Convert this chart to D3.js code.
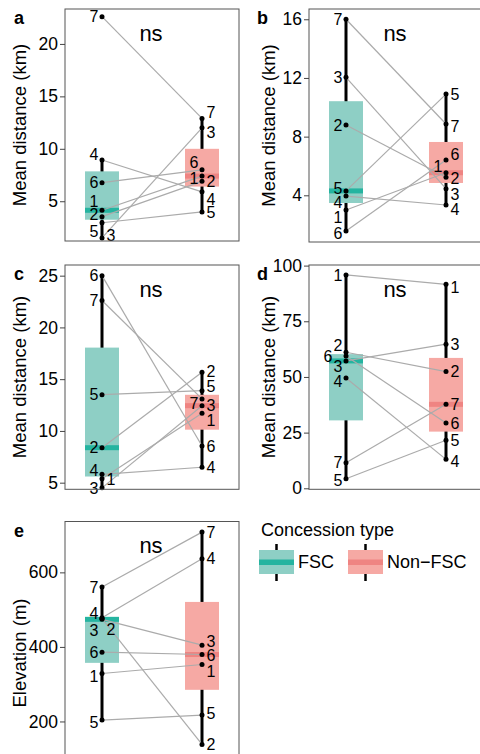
<!DOCTYPE html>
<html><head><meta charset="utf-8">
<script src="https://cdn.jsdelivr.net/npm/d3@7"></script>
<style>body{margin:0;background:#fff;} text{font-family:"Liberation Sans",Arial,sans-serif;}</style>
</head><body>
<script>
// ---------- data ----------
const groups = ["FSC", "Non-FSC"];
const ids = [1, 2, 3, 4, 5, 6, 7];
const panelKeys = ["a", "b", "c", "d", "e"];
const yTitles = ["Mean distance (km)", "Mean distance (km)", "Mean distance (km)", "Mean distance (km)", "Elevation (m)"];
const sigLabels = ["ns", "ns", "ns", "ns", "ns"];

const aFSC    = [4.14, 3.53, 1.50, 8.93, 2.95, 6.77, 22.6];
const aNonFSC = [7.4, 6.9, 12.0, 5.9, 3.98, 8.0, 12.9];
const bFSC    = [3.0, 8.79, 12.04, 3.95, 4.3, 1.57, 16.0];
const bNonFSC = [5.54, 5.23, 4.45, 3.34, 10.9, 6.41, 8.86];
const cFSC    = [5.38, 8.38, 4.5, 5.81, 13.5, 25.0, 22.6];
const cNonFSC = [11.7, 15.66, 12.44, 6.49, 13.89, 8.54, 13.09];
const dFSC    = [95.8, 61.1, 57.2, 49.5, 4.3, 59.4, 11.5];
const dNonFSC = [91.6, 52.4, 64.7, 13.0, 21.6, 29.3, 37.7];
const eFSC    = [328.7, 476, 474, 478, 203.6, 385.8, 560.7];
const eNonFSC = [352.8, 138.5, 404.6, 636.8, 217, 379.6, 708];

const ticksA = [5, 10, 15, 20];
const ticksB = [4, 8, 12, 16];
const ticksC = [5, 10, 15, 20, 25];
const ticksD = [0, 25, 50, 75, 100];
const ticksE = [200, 400, 600];

const legendTitle = "Concession type";
const legendLabels = ["FSC", "Non\u2212FSC"];

// ---------- layout / style ----------
const fills = ["#8ecfc5", "#f6a9a4"];
const medCols = ["#25b4a0", "#ef8482"];
const W = 174;
const layout = [
  {x: 65,  y: 9,     h: 232,   dom: [1.21, 23.33], ticks: ticksA, vals: [aFSC, aNonFSC], tx: 26,  ty: 125},
  {x: 309, y: 9,     h: 233,   dom: [0.817, 16.70], ticks: ticksB, vals: [bFSC, bNonFSC], tx: 275, ty: 125.5},
  {x: 65,  y: 265,   h: 224.3, dom: [4.36, 26.03], ticks: ticksC, vals: [cFSC, cNonFSC], tx: 26,  ty: 377},
  {x: 309, y: 265,   h: 224.3, dom: [-0.45, 100.27], ticks: ticksD, vals: [dFSC, dNonFSC], tx: 275, ty: 377},
  {x: 65,  y: 521.5, h: 233.5, dom: [110, 736.5], ticks: ticksE, vals: [eFSC, eNonFSC], tx: 26,  ty: 653, extra: 40}
];
// label placement tweaks (side L/R, dy/dx in px)
const labelAdj = {
  a: [{4:{dy:-6}, 1:{dy:-9}, 2:{dy:-2}, 5:{dy:8}, 3:{s:"R", dy:-3}},
      {7:{dy:-6}, 3:{dy:4}, 6:{s:"L", dy:-8}, 1:{s:"L", dy:2}, 4:{dy:7}}],
  b: [{5:{dy:-3}, 4:{dy:6}, 1:{dy:7}, 6:{dy:2}},
      {7:{dy:2}, 6:{dy:-6}, 1:{s:"L", dy:-6}, 2:{dy:1}, 3:{dy:6}, 4:{dy:4}}],
  c: [{4:{dy:-4}, 1:{s:"R"}},
      {2:{dy:-1}, 5:{dy:-4}, 7:{s:"L", dy:4}, 1:{dy:7}}],
  d: [{2:{dy:-7}, 6:{dx:-10}, 3:{dy:5}, 4:{dy:3}, 5:{dy:2}},
      {1:{dy:3}, 4:{dy:2}}],
  e: [{4:{dy:-5}, 3:{dy:11}, 2:{s:"R", dy:11}, 1:{dy:3}, 5:{dy:2}},
      {3:{dy:-4}, 6:{dy:1}, 1:{dy:7}, 5:{dy:-2}}]
};

const svg = d3.select("body").append("svg").attr("width", 480).attr("height", 754);

function stats(v) {
  const s = d3.sort(v);
  const q1 = d3.quantile(s, 0.25), med = d3.quantile(s, 0.5), q3 = d3.quantile(s, 0.75);
  const iqr = q3 - q1;
  const lo = d3.min(s.filter(d => d >= q1 - 1.5 * iqr));
  const hi = d3.max(s.filter(d => d <= q3 + 1.5 * iqr));
  return {q1, med, q3, lo, hi};
}

layout.forEach((P, pi) => {
  const key = panelKeys[pi];
  const g = svg.append("g");
  const x = d3.scalePoint().domain(groups).range([P.x, P.x + W]).padding(0.37);
  const y = d3.scaleLinear().domain(P.dom).range([P.y + P.h, P.y]);
  const bw = 34;

  // whiskers + boxes
  groups.forEach((grp, gi) => {
    const st = stats(P.vals[gi]);
    const cx = x(grp);
    g.append("line").attr("x1", cx).attr("x2", cx).attr("y1", y(st.lo)).attr("y2", y(st.hi))
      .attr("stroke", "#000").attr("stroke-width", 3);
    g.append("rect").attr("x", cx - bw / 2).attr("width", bw)
      .attr("y", y(st.q3)).attr("height", y(st.q1) - y(st.q3)).attr("fill", fills[gi]);
    g.append("rect").attr("x", cx - bw / 2).attr("width", bw)
      .attr("y", y(st.med) - 2.5).attr("height", 5).attr("fill", medCols[gi]);
  });

  // paired lines
  ids.forEach((id, i) => {
    g.append("line").attr("x1", x(groups[0])).attr("y1", y(P.vals[0][i]))
      .attr("x2", x(groups[1])).attr("y2", y(P.vals[1][i]))
      .attr("stroke", "#ababab").attr("stroke-width", 1.2);
  });

  // points + labels
  groups.forEach((grp, gi) => {
    const cx = x(grp);
    ids.forEach((id, i) => {
      const cy = y(P.vals[gi][i]);
      g.append("circle").attr("cx", cx).attr("cy", cy).attr("r", 2.5).attr("fill", "#000");
      const adj = labelAdj[key][gi][id] || {};
      const side = adj.s || (gi === 0 ? "L" : "R");
      const dx = adj.dx || 0, dy = adj.dy || 0;
      g.append("text").attr("x", side === "L" ? cx - 3.5 + dx : cx + 4.5 + dx)
        .attr("y", cy + dy).attr("dy", "0.36em")
        .attr("text-anchor", side === "L" ? "end" : "start")
        .attr("font-size", 16).attr("fill", "#000").text(id);
    });
  });

  // ns
  g.append("text").attr("x", P.x + 86).attr("y", P.y + 31.5).attr("text-anchor", "middle")
    .attr("font-size", 22).attr("fill", "#000").text(sigLabels[pi]);

  // border
  g.append("rect").attr("x", P.x).attr("y", P.y).attr("width", W).attr("height", P.h + (P.extra || 0))
    .attr("fill", "none").attr("stroke", "#555").attr("stroke-width", 1);

  // axis
  const ax = g.append("g").attr("transform", `translate(${P.x},0)`)
    .call(d3.axisLeft(y).tickValues(P.ticks).tickSize(5).tickPadding(2).tickFormat(d3.format("d")));
  ax.select(".domain").remove();
  ax.selectAll(".tick line").attr("stroke", "#444");
  ax.selectAll(".tick text").attr("font-size", 17.5).attr("fill", "#000")
    .style("font-family", "'Liberation Sans', Arial, sans-serif");

  // axis title
  g.append("text").attr("transform", `translate(${P.tx},${P.ty}) rotate(-90)`)
    .attr("text-anchor", "middle").attr("font-size", 18.5).attr("fill", "#000").text(yTitles[pi]);

  // panel letter
  g.append("text").attr("x", P.x < 100 ? 14 : 257).attr("y", P.y + 15)
    .attr("font-size", 18).attr("font-weight", "bold").attr("fill", "#000").text(key);
});

// legend
const lg = svg.append("g");
lg.append("text").attr("x", 261).attr("y", 536).attr("font-size", 18).attr("fill", "#000").text(legendTitle);
const keyX = [259, 348];
const textX = [298, 387];
groups.forEach((grp, gi) => {
  const kx = keyX[gi];
  lg.append("line").attr("x1", kx + 17.5).attr("x2", kx + 17.5).attr("y1", 544).attr("y2", 581)
    .attr("stroke", "#000").attr("stroke-width", 2.5);
  lg.append("rect").attr("x", kx).attr("y", 550).attr("width", 35).attr("height", 24).attr("fill", fills[gi]);
  lg.append("rect").attr("x", kx).attr("y", 559.5).attr("width", 35).attr("height", 5.5).attr("fill", medCols[gi]);
  lg.append("text").attr("x", textX[gi]).attr("y", 562).attr("dy", "0.36em")
    .attr("font-size", 18).attr("fill", "#000").text(legendLabels[gi]);
});
</script>
</body></html>
